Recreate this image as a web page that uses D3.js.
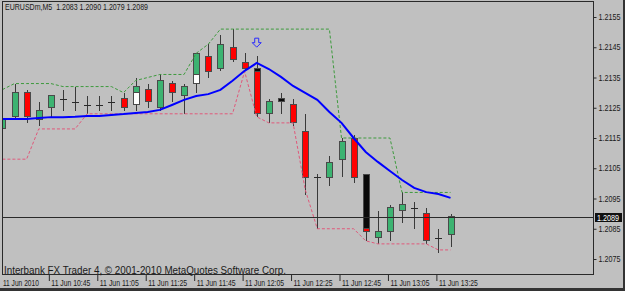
<!DOCTYPE html>
<html lang="en">
<head>
<meta charset="UTF-8">
<title>EURUSDm,M5</title>
<script src="https://cdn.jsdelivr.net/npm/d3@7"></script>
<style>
  body { margin: 0; background: #c0c0c0; }
  svg { display: block; }
  text { font-family: "Liberation Sans", Arial, sans-serif; }
</style>
</head>
<body>
<div id="chart"></div>
<script>
// M5 bars, 11 Jun 2010 10:25 .. 13:30
const open  = [1.2118,1.2122,1.2130,1.2121,1.2125,1.2128,1.2127,1.2126,1.2126,1.2127,1.2128,1.2126,1.2131,1.2125,1.2133,1.2129,1.2133,1.2142,1.2138,1.2145,1.2140,1.2138,1.2123,1.2128,1.2126,1.2117,1.2102,1.2102,1.2108,1.2115,1.2103,1.2082,1.2084,1.2091,1.2092,1.2090,1.2082,1.2083];
const high  = [1.2123,1.2133,1.2131,1.2127,1.2129,1.2131,1.2132,1.2129,1.2129,1.2129,1.2130,1.2135,1.2133,1.2136,1.2134,1.2133,1.2143,1.2146,1.2149,1.2151,1.2143,1.2142,1.2128,1.2130,1.2128,1.2123,1.2103,1.2109,1.2115,1.2116,1.2103,1.2091,1.2093,1.2097,1.2094,1.2092,1.2085,1.2090];
const low   = [1.2116,1.2121,1.2120,1.2119,1.2122,1.2124,1.2124,1.2123,1.2124,1.2124,1.2124,1.2124,1.2125,1.2124,1.2127,1.2123,1.2130,1.2135,1.2137,1.2140,1.2137,1.2122,1.2120,1.2123,1.2119,1.2096,1.2085,1.2099,1.2102,1.2100,1.2081,1.2080,1.2081,1.2087,1.2085,1.2080,1.2077,1.2079];
const close = [1.2121,1.2130,1.2122,1.2124,1.2129,1.2128,1.2127,1.2126,1.2126,1.2127,1.2125,1.2132,1.2127,1.2134,1.2130,1.2132,1.2143,1.2137,1.2146,1.2141,1.2138,1.2123,1.2127,1.2127,1.2120,1.2102,1.2102,1.2107,1.2114,1.2102,1.2084,1.2084,1.2092,1.2093,1.2092,1.2081,1.2082,1.2089];

// moving average (blue)
const ma = [1.21213,1.21213,1.21213,1.21216,1.21219,1.21219,1.21220,1.21223,1.21223,1.21226,1.21229,1.21233,1.21236,1.21243,1.21259,1.21276,1.21289,1.21295,1.21309,1.21339,1.21372,1.21398,1.21378,1.21352,1.21322,1.21299,1.21276,1.21236,1.21200,1.21150,1.21104,1.21071,1.21041,1.21011,1.20985,1.20971,1.20965,1.20952];

// channel lines (dashed)
const upper = [1.2131,1.2133,1.2133,1.2133,1.2133,1.2132,1.2132,1.2132,1.2132,1.2132,1.2130,1.2134,1.2135,1.2136,1.2136,1.2136,1.2143,1.2146,1.2151,1.2151,1.2151,1.2151,1.2151,1.2151,1.2151,1.2151,1.2151,1.2151,1.2115,1.2115,1.2115,1.2115,1.2115,1.2097,1.2097,1.2097,1.2097,1.2097];
const lower = [1.2108,1.2108,1.2108,1.2118,1.2118,1.2118,1.2118,1.2123,1.2123,1.2123,1.2123,1.2123,1.2123,1.2123,1.2123,1.2123,1.2123,1.2123,1.2123,1.2123,1.2137,1.2122,1.2120,1.2120,1.2120,1.2098,1.2085,1.2085,1.2085,1.2085,1.2081,1.2080,1.2080,1.2080,1.2080,1.2080,1.2078,1.2078];

// indicator shading painted over some bodies
const shadeBar  = [11, 16, 21, 23, 30];
const shadeFrom = [1.2126, 1.2133, 1.2137, 1.2127, 1.2085];
const shadeTo   = [1.2130, 1.2136, 1.2138, 1.2128, 1.2103];
const shadeKind = ["up", "up", "down", "down", "down"];

// signal arrow
const arrowBar = 21, arrowPrice = 1.2148;

const priceTicks = [1.2155,1.2145,1.2135,1.2125,1.2115,1.2105,1.2095,1.2085,1.2075];
const timeTickBars = [0,4,8,12,16,20,24,28,32,36];
const timeLabels = ["11 Jun 2010","11 Jun 10:45","11 Jun 11:05","11 Jun 11:25","11 Jun 11:45","11 Jun 12:05","11 Jun 12:25","11 Jun 12:45","11 Jun 13:05","11 Jun 13:25"];

const width = 625, height = 291;
const plot = {left: 2, right: 593, top: 2, bottom: 275};

const svg = d3.select("#chart")
  .append("svg")
    .attr("width", width)
    .attr("height", height);

svg.append("rect")
  .attr("width", width).attr("height", height)
  .attr("fill", "#c0c0c0");

// window edges
svg.append("rect").attr("x", 623).attr("y", 0).attr("width", 2).attr("height", height).attr("fill", "#333");
svg.append("rect").attr("x", 0).attr("y", 288).attr("width", width).attr("height", 3).attr("fill", "#333");

const x = d3.scaleLinear().domain([0, 37]).range([2.4, 450.5]);
const y = d3.scaleLinear().domain([1.2155, 1.2075]).range([17, 259]);

svg.append("clipPath").attr("id", "plotclip")
  .append("rect")
    .attr("x", plot.left).attr("y", plot.top)
    .attr("width", plot.right - plot.left).attr("height", plot.bottom - plot.top);

const g = svg.append("g").attr("clip-path", "url(#plotclip)");

const idx = d3.range(open.length);
const cx = i => Math.round(x(i));

// close price line
const lastClose = close[close.length - 1];
const yc = Math.round(y(lastClose)) + 0.5;
svg.append("line")
  .attr("x1", plot.left).attr("x2", plot.right)
  .attr("y1", yc).attr("y2", yc)
  .attr("stroke", "#2a2a2a");

// wicks
g.selectAll("line.wick")
  .data(idx)
  .join("line")
    .attr("class", "wick")
    .attr("x1", i => cx(i) + 0.5).attr("x2", i => cx(i) + 0.5)
    .attr("y1", i => y(high[i])).attr("y2", i => y(low[i]))
    .attr("stroke", "#3a3a3a")
    .attr("shape-rendering", "crispEdges");

// bodies
const bodies = idx.filter(i => open[i] !== close[i]);
g.selectAll("rect.body")
  .data(bodies)
  .join("rect")
    .attr("class", "body")
    .attr("x", i => cx(i) - 2.5)
    .attr("width", 6)
    .attr("y", i => y(Math.max(open[i], close[i])))
    .attr("height", i => Math.abs(y(open[i]) - y(close[i])))
    .attr("fill", i => close[i] > open[i] ? "#3cb371" : "#ff0000")
    .attr("stroke", "#4a4a4a")
    .attr("shape-rendering", "crispEdges");

// doji crosses
g.selectAll("line.doji")
  .data(idx.filter(i => open[i] === close[i]))
  .join("line")
    .attr("class", "doji")
    .attr("x1", i => cx(i) - 3).attr("x2", i => cx(i) + 4)
    .attr("y1", i => Math.round(y(open[i])) + 0.5)
    .attr("y2", i => Math.round(y(open[i])) + 0.5)
    .attr("stroke", "#2a2a2a");

// shading
const shadeColor = d3.scaleOrdinal().domain(["up", "down"]).range(["#ffffff", "#0a0a0a"]);
g.selectAll("rect.shade")
  .data(d3.range(shadeBar.length))
  .join("rect")
    .attr("class", "shade")
    .attr("x", k => cx(shadeBar[k]) - 2.5)
    .attr("width", 6)
    .attr("y", k => y(shadeTo[k]))
    .attr("height", k => y(shadeFrom[k]) - y(shadeTo[k]))
    .attr("fill", k => shadeColor(shadeKind[k]))
    .attr("stroke", "#4a4a4a")
    .attr("shape-rendering", "crispEdges");

const line = d3.line().x((d, i) => x(i)).y(d => y(d));

g.append("path").datum(upper)
  .attr("d", line)
  .attr("fill", "none")
  .attr("stroke", "#3d9a3d")
  .attr("stroke-dasharray", "3,2");

g.append("path").datum(lower)
  .attr("d", line)
  .attr("fill", "none")
  .attr("stroke", "#e0587a")
  .attr("stroke-dasharray", "3,2");

g.append("path").datum(ma)
  .attr("d", line)
  .attr("fill", "none")
  .attr("stroke", "#0000ff")
  .attr("stroke-width", 2);

// arrow above the top bar
const ax = x(arrowBar), ay = y(arrowPrice);
g.append("path")
  .attr("d", `M${ax - 2},${ay} h4 v4.5 h2.5 l-4.5,4.5 l-4.5,-4.5 h2.5 z`)
  .attr("fill", "none")
  .attr("stroke", "#2a2aff");

// frame
svg.append("rect")
  .attr("x", plot.left + 0.5).attr("y", plot.top - 0.5)
  .attr("width", plot.right - plot.left).attr("height", plot.bottom - plot.top)
  .attr("fill", "none")
  .attr("stroke", "#2a2a2a");

// price axis
const yAxis = svg.append("g")
  .attr("transform", `translate(${plot.right + 0.5},0)`)
  .call(d3.axisRight(y).tickValues(priceTicks).tickSize(3).tickPadding(2).tickFormat(d3.format(".4f")));
yAxis.select(".domain").remove();
yAxis.selectAll("line").attr("stroke", "#2a2a2a");
yAxis.selectAll("text")
  .attr("font-family", "Liberation Sans, Arial, sans-serif")
  .attr("font-size", 8.5)
  .attr("fill", "#1a1a1a")
  .attr("textLength", 22)
  .attr("lengthAdjust", "spacingAndGlyphs");

// close price label
svg.append("rect")
  .attr("x", 595).attr("y", Math.round(y(lastClose)) - 4)
  .attr("width", 27).attr("height", 9)
  .attr("fill", "#111");
svg.append("text")
  .attr("x", 597).attr("y", Math.round(y(lastClose)) + 3.5)
  .attr("font-size", 8.5)
  .attr("fill", "#fff")
  .attr("textLength", 22)
  .attr("lengthAdjust", "spacingAndGlyphs")
  .text(d3.format(".4f")(lastClose));

// time axis
const xAxis = svg.append("g")
  .attr("transform", `translate(-2,${plot.bottom})`)
  .call(d3.axisBottom(x).tickValues(timeTickBars).tickSize(6).tickFormat((d, i) => timeLabels[i]));
xAxis.select(".domain").remove();
xAxis.selectAll("line").attr("stroke", "#2a2a2a");
xAxis.selectAll(".tick").filter(d => d === 0).select("line").remove();
xAxis.selectAll("text")
  .attr("font-family", "Liberation Sans, Arial, sans-serif")
  .attr("font-size", 8.5)
  .attr("fill", "#1a1a1a")
  .attr("text-anchor", "start")
  .attr("x", 2)
  .attr("y", 10.5)
  .attr("dy", 0)
  .attr("textLength", d => d === 0 ? 36 : 39)
  .attr("lengthAdjust", "spacingAndGlyphs");

// header
const n = close.length - 1;
const f4 = d3.format(".4f");
svg.append("text")
  .attr("x", 5).attr("y", 10)
  .attr("font-size", 9)
  .attr("fill", "#1a1a1a")
  .attr("textLength", 143)
  .attr("lengthAdjust", "spacingAndGlyphs")
  .attr("xml:space", "preserve")
  .text(`EURUSDm,M5  ${f4(open[n])} ${f4(high[n])} ${f4(low[n])} ${f4(close[n])}`);

// copyright
svg.append("text")
  .attr("x", 4).attr("y", 274)
  .attr("font-size", 10)
  .attr("fill", "#1a1a1a")
  .attr("textLength", 282)
  .attr("lengthAdjust", "spacingAndGlyphs")
  .text("Interbank FX Trader 4, \u00a9 2001-2010 MetaQuotes Software Corp.");
</script>
</body>
</html>
